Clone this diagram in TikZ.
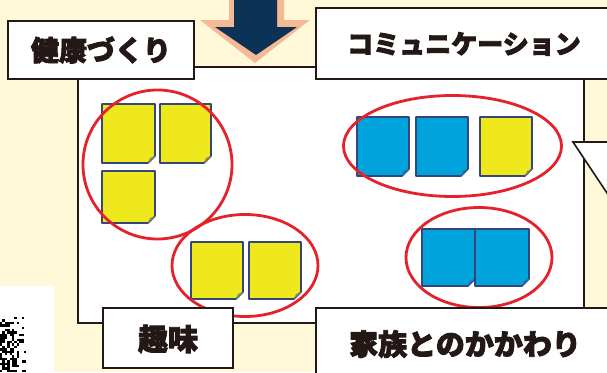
\documentclass[tikz,border=0pt]{standalone}
\usepackage{fontspec}
\newfontfamily\jpfont[FakeBold=3]{Noto Sans CJK JP Black}
\definecolor{cream}{HTML}{FFF9DA}
\definecolor{inkc}{HTML}{231815}
\definecolor{navyarrow}{HTML}{0C3356}
\definecolor{peach}{HTML}{F6B995}
\definecolor{notey}{HTML}{EEE81C}
\definecolor{noteb}{HTML}{00A3DC}
\definecolor{noteedge}{HTML}{34467A}
\definecolor{ringred}{HTML}{E5222C}
\tikzset{
  labelbox/.style={draw=inkc,fill=white,line width=2pt},
  labeltext/.style={text=inkc,inner sep=0pt},
  ring/.style={draw=ringred,line width=2.8pt},
  noteshape/.style={draw=noteedge,line width=1.6pt,line join=round},
}
\newcommand\stickynote[5]{%
  \filldraw[noteshape,fill=#5] (#1,#2) -- (#3,#2) -- (#3,#4-7) -- (#3-7,#4) -- (#1,#4) -- cycle;
  \fill[#5!45!noteedge] (#3-7,#4) -- (#3,#4-7) -- (#3-5,#4-5) -- cycle;
}
\begin{document}
\begin{tikzpicture}[x=1pt,y=-1pt]
\useasboundingbox (0,0) rectangle (607,372);
\fill[cream] (0,0) rectangle (607,372);
% QR fragment
\fill[white] (-2,286) rectangle (54,374);
\pgfmathsetseed{11}
\foreach \i in {0,...,10}{
  \foreach \j in {0,...,22}{
    \pgfmathsetmacro\thr{\i<6 ? 0.6 : (\i<9 ? 0.4 : 0.15)}
    \pgfmathsetmacro\jthr{\j<2 ? 0.1 : \thr}
    \pgfmathrandominteger{\r}{0}{99}
    \pgfmathparse{\r<100*\jthr ? 1 : 0}
    \ifnum\pgfmathresult=1
      \fill[black] ({\i*2.4},{317+\j*2.4}) rectangle ++(2.4,2.4);
    \fi
  }
}
% main panel
\filldraw[draw=inkc,fill=white,line width=2pt] (78,67) rectangle (584,323);
% speech bubble tail
\filldraw[draw=inkc,fill=white,line width=1.6pt] (612,142) -- (573,142) -- (612,200.5);
% arrow
\fill[peach] (229,-2) -- (284,-2) -- (284,20) -- (310,20) -- (255,63) -- (200,20) -- (229,20) -- cycle;
\fill[navyarrow] (234,-2) -- (277,-2) -- (277,27) -- (297,27) -- (256,55) -- (215,27) -- (234,27) -- cycle;
% notes
\stickynote{102}{104}{155}{163}{notey}
\stickynote{160}{104}{211}{163}{notey}
\stickynote{102}{171}{155}{223}{notey}
\stickynote{191}{242}{243}{299}{notey}
\stickynote{249}{242}{301}{299}{notey}
\stickynote{357}{117}{409}{176}{noteb}
\stickynote{416}{117}{468}{176}{noteb}
\stickynote{480}{117}{532}{176}{notey}
\stickynote{422}{229}{475}{286}{noteb}
\stickynote{475}{229}{529}{286}{noteb}
% rings
\draw[ring] (157.5,164.5) ellipse [x radius=74.5pt, y radius=74.5pt];
\draw[ring] (245,265.5) ellipse [x radius=73pt, y radius=51pt];
\draw[ring] (452.5,146) ellipse [x radius=109pt, y radius=50.5pt];
\draw[ring] (479,257.5) ellipse [x radius=73pt, y radius=50pt];
% labels
\draw[labelbox] (8,21) rectangle (194,79);
\node[labeltext,font=\jpfont\fontsize{28}{28}\selectfont] (kenko) at (101,50) {健康づくり};
\draw[labelbox] (316,8) rectangle (612,79);
\node[labeltext,font=\jpfont\fontsize{26}{26}\selectfont] (comm) at (464,44) {コミュニケーション};
\draw[labelbox] (103,308) rectangle (233,368);
\node[labeltext,font=\jpfont\fontsize{30}{30}\selectfont] (shumi) at (168,339) {趣味};
\draw[labelbox] (316,308) rectangle (612,376);
\node[labeltext,font=\jpfont\fontsize{29}{29}\selectfont] (kazoku) at (465,344) {家族とのかかわり};
\end{tikzpicture}
\end{document}
